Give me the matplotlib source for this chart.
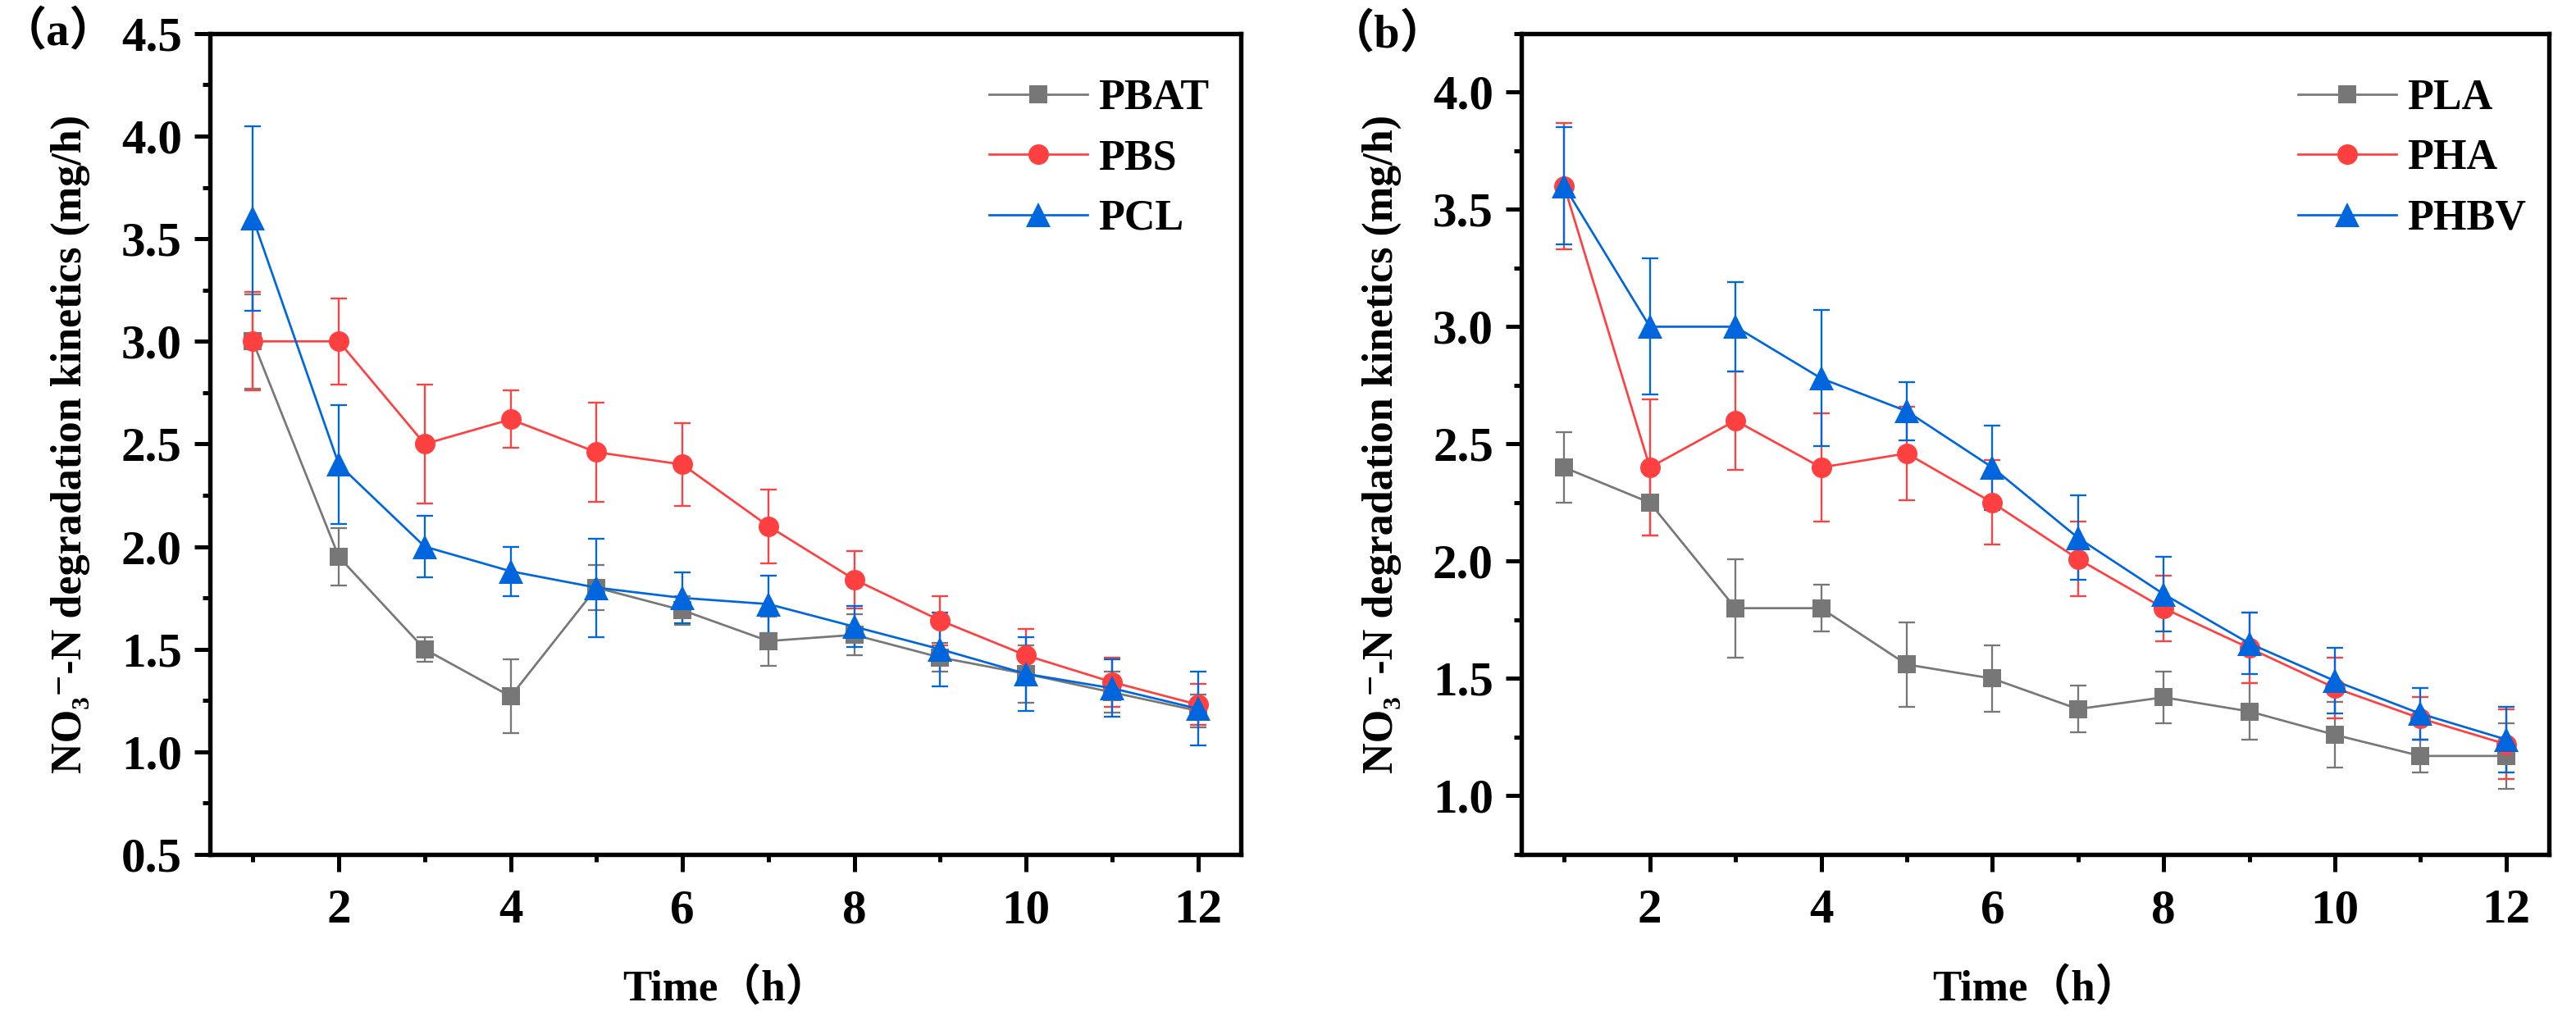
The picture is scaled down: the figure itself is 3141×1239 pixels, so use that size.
import numpy as np
import matplotlib
matplotlib.use("Agg")
import matplotlib.pyplot as plt
from matplotlib.ticker import MultipleLocator

plt.rcParams['font.family'] = ['Liberation Serif', 'DejaVu Serif', 'Noto Sans CJK SC']
plt.rcParams['font.weight'] = 'bold'

# data
time_h = [1, 2, 3, 4, 5, 6, 7, 8, 9, 10, 11, 12]

# panel (a)
labels_a = ['PBAT', 'PBS', 'PCL']
pbat = [3.00, 1.95, 1.50, 1.27, 1.80, 1.69, 1.54, 1.57, 1.46, 1.38, 1.29, 1.20]
pbat_err = [0.23, 0.14, 0.06, 0.18, 0.11, 0.07, 0.12, 0.10, 0.07, 0.14, 0.10, 0.08]
pbs = [3.00, 3.00, 2.50, 2.62, 2.46, 2.40, 2.10, 1.84, 1.64, 1.47, 1.34, 1.23]
pbs_err = [0.24, 0.21, 0.29, 0.14, 0.24, 0.20, 0.18, 0.14, 0.12, 0.13, 0.12, 0.10]
pcl = [3.60, 2.40, 2.00, 1.88, 1.80, 1.75, 1.72, 1.61, 1.50, 1.38, 1.31, 1.21]
pcl_err = [0.45, 0.29, 0.15, 0.12, 0.24, 0.125, 0.14, 0.10, 0.18, 0.18, 0.14, 0.18]

# panel (b)
labels_b = ['PLA', 'PHA', 'PHBV']
pla = [2.40, 2.25, 1.80, 1.80, 1.56, 1.50, 1.37, 1.42, 1.36, 1.26, 1.17, 1.17]
pla_err = [0.15, 0.14, 0.21, 0.10, 0.18, 0.14, 0.10, 0.11, 0.12, 0.14, 0.07, 0.14]
pha = [3.60, 2.40, 2.60, 2.40, 2.46, 2.25, 2.01, 1.80, 1.63, 1.46, 1.33, 1.22]
pha_err = [0.27, 0.29, 0.21, 0.23, 0.20, 0.18, 0.16, 0.14, 0.15, 0.13, 0.09, 0.15]
phbv = [3.60, 3.00, 3.00, 2.78, 2.64, 2.40, 2.10, 1.86, 1.65, 1.49, 1.35, 1.24]
phbv_err = [0.25, 0.29, 0.19, 0.29, 0.125, 0.18, 0.18, 0.16, 0.13, 0.14, 0.11, 0.14]

GRAY = '#777777'
RED = '#ff4040'
BLUE = '#0066dd'

ylabel = 'NO\u2083\u207b-N degradation kinetics (mg/h)'


def draw_series(ax, y, err, color, marker, ms):
    line, caps, bars = ax.errorbar(time_h, y, yerr=err, color=color, ecolor=color,
                                   marker=marker, markersize=ms,
                                   linewidth=0.65, elinewidth=0.55, capsize=2.4,
                                   capthick=0.55)
    line.set_markeredgewidth(0)
    for c in caps:
        c.set_markeredgewidth(0.55)
        c.set_markeredgecolor(color)
    return line


def style_axes(ax, ylim, ymajor):
    ax.set_xlim(0.5, 12.5)
    ax.set_ylim(*ylim)
    ax.xaxis.set_major_locator(MultipleLocator(2))
    ax.xaxis.set_minor_locator(MultipleLocator(1))
    ax.yaxis.set_major_locator(MultipleLocator(ymajor))
    ax.yaxis.set_minor_locator(MultipleLocator(0.25))
    ax.yaxis.set_major_formatter(matplotlib.ticker.FormatStrFormatter('%.1f'))
    for sp in ax.spines.values():
        sp.set_linewidth(1.3)
    ax.tick_params(axis='both', which='major', direction='out', width=1.2,
                   labelsize=14.2)
    ax.tick_params(axis='x', which='major', length=5.0, pad=5.2)
    ax.tick_params(axis='y', which='major', length=4.6, pad=3.6)
    ax.tick_params(axis='both', which='minor', direction='out', width=1.2,
                   length=2.2)
    for lab in ax.get_xticklabels() + ax.get_yticklabels():
        lab.set_fontweight('bold')
    ax.set_xlabel('Time\uff08h\uff09', fontsize=12.7, fontweight='bold', labelpad=10)
    ax.set_ylabel(ylabel, fontsize=12.5, fontweight='bold', labelpad=9)


fig = plt.figure(figsize=(3141 / 300, 1239 / 300), dpi=300)
ax1 = fig.add_axes([0.0815, 0.159, 0.4002, 0.808])
ax2 = fig.add_axes([0.5906, 0.159, 0.3989, 0.808])

# (a)
h1 = [draw_series(ax1, pbat, pbat_err, GRAY, 's', 5.5),
      draw_series(ax1, pbs, pbs_err, RED, 'o', 6.0),
      draw_series(ax1, pcl, pcl_err, BLUE, '^', 7.0)]
style_axes(ax1, (0.5, 4.5), 0.5)

# (b)
h2 = [draw_series(ax2, pla, pla_err, GRAY, 's', 5.5),
      draw_series(ax2, pha, pha_err, RED, 'o', 6.0),
      draw_series(ax2, phbv, phbv_err, BLUE, '^', 7.0)]
style_axes(ax2, (0.75, 4.25), 0.5)
ax2.set_yticks([1.0, 1.5, 2.0, 2.5, 3.0, 3.5, 4.0])

for ax, handles, labels in ((ax1, h1, labels_a), (ax2, h2, labels_b)):
    leg = ax.legend(handles, labels, loc='upper left', bbox_to_anchor=(0.756, 0.945),
                    frameon=False, fontsize=12.5, handlelength=2.3,
                    handletextpad=0.25, labelspacing=0.49, borderpad=0,
                    borderaxespad=0)
    for t in leg.get_texts():
        t.set_fontweight('bold')

fig.text(0.5 / 3141, 1 - 40 / 1239, '\uff08a\uff09', fontsize=13.5, fontweight='bold',
         ha='left', va='center')
fig.text(1692 / 3141, 1 - 43 / 1239, '\uff08b\uff09', fontsize=13.5, fontweight='bold',
         ha='center', va='center')

fig.savefig('out.png', dpi=300)
